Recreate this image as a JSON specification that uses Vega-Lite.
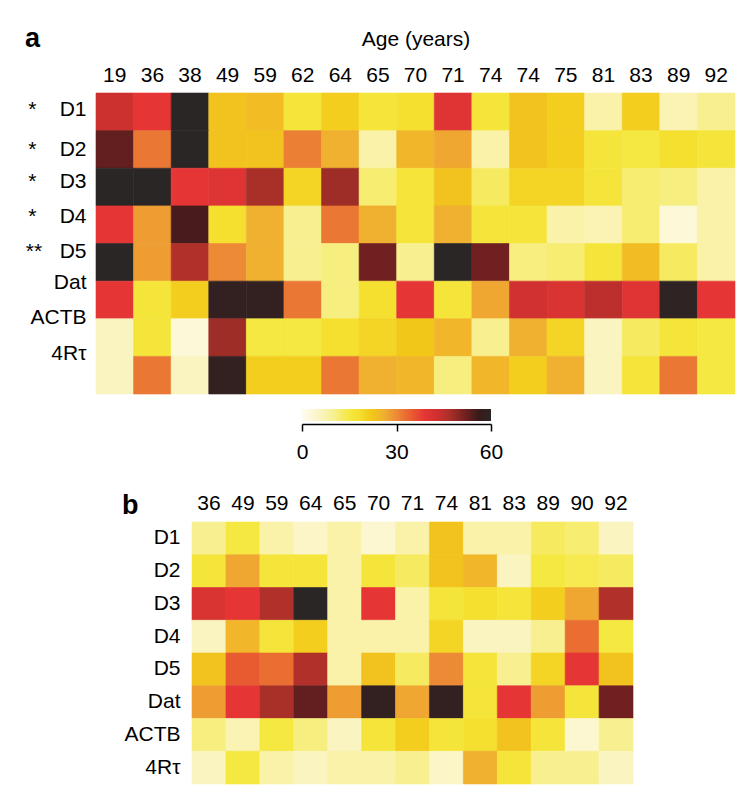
{
  "$schema": "https://vega.github.io/schema/vega-lite/v6.json",
  "background": "white",
  "padding": {"left": 0, "top": 25, "right": 0, "bottom": 0},
  "config": {
    "view": {"stroke": null},
    "font": "Liberation Sans",
    "axis": {"labelFont": "Liberation Sans", "labelFontSize": 21, "labelColor": "#000", "titleFont": "Liberation Sans", "titleFontSize": 21, "titleFontWeight": "normal", "titleColor": "#000", "domain": false, "ticks": false, "grid": false, "labelOverlap": false},
    "title": {"font": "Liberation Sans", "fontSize": 27, "fontWeight": "bold", "color": "#000", "anchor": "start", "frame": "group", "baseline": "alphabetic"}
  },
  "datasets": {
    "panelA": [
      {"gene": "D1", "age": "19", "v": 43}, {"gene": "D1", "age": "36", "v": 39}, {"gene": "D1", "age": "38", "v": 60}, {"gene": "D1", "age": "49", "v": 23}, {"gene": "D1", "age": "59", "v": 24}, {"gene": "D1", "age": "62", "v": 16}, {"gene": "D1", "age": "64", "v": 21}, {"gene": "D1", "age": "65", "v": 16}, {"gene": "D1", "age": "70", "v": 18}, {"gene": "D1", "age": "71", "v": 40}, {"gene": "D1", "age": "74", "v": 16}, {"gene": "D1", "age": "74\u200b", "v": 23}, {"gene": "D1", "age": "75", "v": 21}, {"gene": "D1", "age": "81", "v": 8}, {"gene": "D1", "age": "83", "v": 21}, {"gene": "D1", "age": "89", "v": 7}, {"gene": "D1", "age": "92", "v": 10},
      {"gene": "D2", "age": "19", "v": 53}, {"gene": "D2", "age": "36", "v": 32}, {"gene": "D2", "age": "38", "v": 60}, {"gene": "D2", "age": "49", "v": 23}, {"gene": "D2", "age": "59", "v": 23}, {"gene": "D2", "age": "62", "v": 31}, {"gene": "D2", "age": "64", "v": 26}, {"gene": "D2", "age": "65", "v": 8}, {"gene": "D2", "age": "70", "v": 25}, {"gene": "D2", "age": "71", "v": 27}, {"gene": "D2", "age": "74", "v": 8}, {"gene": "D2", "age": "74\u200b", "v": 23}, {"gene": "D2", "age": "75", "v": 21}, {"gene": "D2", "age": "81", "v": 16}, {"gene": "D2", "age": "83", "v": 15}, {"gene": "D2", "age": "89", "v": 18}, {"gene": "D2", "age": "92", "v": 16},
      {"gene": "D3", "age": "19", "v": 60}, {"gene": "D3", "age": "36", "v": 60}, {"gene": "D3", "age": "38", "v": 39}, {"gene": "D3", "age": "49", "v": 40}, {"gene": "D3", "age": "59", "v": 47}, {"gene": "D3", "age": "62", "v": 20}, {"gene": "D3", "age": "64", "v": 48}, {"gene": "D3", "age": "65", "v": 12}, {"gene": "D3", "age": "70", "v": 16}, {"gene": "D3", "age": "71", "v": 23}, {"gene": "D3", "age": "74", "v": 13}, {"gene": "D3", "age": "74\u200b", "v": 20}, {"gene": "D3", "age": "75", "v": 20}, {"gene": "D3", "age": "81", "v": 16}, {"gene": "D3", "age": "83", "v": 12}, {"gene": "D3", "age": "89", "v": 11}, {"gene": "D3", "age": "92", "v": 8},
      {"gene": "D4", "age": "19", "v": 39}, {"gene": "D4", "age": "36", "v": 28}, {"gene": "D4", "age": "38", "v": 55}, {"gene": "D4", "age": "49", "v": 18}, {"gene": "D4", "age": "59", "v": 26}, {"gene": "D4", "age": "62", "v": 10}, {"gene": "D4", "age": "64", "v": 32}, {"gene": "D4", "age": "65", "v": 26}, {"gene": "D4", "age": "70", "v": 16}, {"gene": "D4", "age": "71", "v": 26}, {"gene": "D4", "age": "74", "v": 16}, {"gene": "D4", "age": "74\u200b", "v": 16}, {"gene": "D4", "age": "75", "v": 8}, {"gene": "D4", "age": "81", "v": 7}, {"gene": "D4", "age": "83", "v": 12}, {"gene": "D4", "age": "89", "v": 3}, {"gene": "D4", "age": "92", "v": 8},
      {"gene": "D5", "age": "19", "v": 60}, {"gene": "D5", "age": "36", "v": 28}, {"gene": "D5", "age": "38", "v": 46}, {"gene": "D5", "age": "49", "v": 30}, {"gene": "D5", "age": "59", "v": 26}, {"gene": "D5", "age": "62", "v": 10}, {"gene": "D5", "age": "64", "v": 11}, {"gene": "D5", "age": "65", "v": 52}, {"gene": "D5", "age": "70", "v": 10}, {"gene": "D5", "age": "71", "v": 60}, {"gene": "D5", "age": "74", "v": 52}, {"gene": "D5", "age": "74\u200b", "v": 11}, {"gene": "D5", "age": "75", "v": 12}, {"gene": "D5", "age": "81", "v": 16}, {"gene": "D5", "age": "83", "v": 24}, {"gene": "D5", "age": "89", "v": 13}, {"gene": "D5", "age": "92", "v": 8},
      {"gene": "Dat", "age": "19", "v": 39}, {"gene": "Dat", "age": "36", "v": 16}, {"gene": "Dat", "age": "38", "v": 21}, {"gene": "Dat", "age": "49", "v": 58}, {"gene": "Dat", "age": "59", "v": 58}, {"gene": "Dat", "age": "62", "v": 32}, {"gene": "Dat", "age": "64", "v": 11}, {"gene": "Dat", "age": "65", "v": 18}, {"gene": "Dat", "age": "70", "v": 39}, {"gene": "Dat", "age": "71", "v": 16}, {"gene": "Dat", "age": "74", "v": 27}, {"gene": "Dat", "age": "74\u200b", "v": 42}, {"gene": "Dat", "age": "75", "v": 41}, {"gene": "Dat", "age": "81", "v": 45}, {"gene": "Dat", "age": "83", "v": 40}, {"gene": "Dat", "age": "89", "v": 59}, {"gene": "Dat", "age": "92", "v": 39},
      {"gene": "ACTB", "age": "19", "v": 6}, {"gene": "ACTB", "age": "36", "v": 16}, {"gene": "ACTB", "age": "38", "v": 3}, {"gene": "ACTB", "age": "49", "v": 48}, {"gene": "ACTB", "age": "59", "v": 15}, {"gene": "ACTB", "age": "62", "v": 15}, {"gene": "ACTB", "age": "64", "v": 18}, {"gene": "ACTB", "age": "65", "v": 20}, {"gene": "ACTB", "age": "70", "v": 22}, {"gene": "ACTB", "age": "71", "v": 25}, {"gene": "ACTB", "age": "74", "v": 10}, {"gene": "ACTB", "age": "74\u200b", "v": 26}, {"gene": "ACTB", "age": "75", "v": 20}, {"gene": "ACTB", "age": "81", "v": 6}, {"gene": "ACTB", "age": "83", "v": 13}, {"gene": "ACTB", "age": "89", "v": 16}, {"gene": "ACTB", "age": "92", "v": 15},
      {"gene": "4Rτ", "age": "19", "v": 6}, {"gene": "4Rτ", "age": "36", "v": 32}, {"gene": "4Rτ", "age": "38", "v": 6}, {"gene": "4Rτ", "age": "49", "v": 58}, {"gene": "4Rτ", "age": "59", "v": 21}, {"gene": "4Rτ", "age": "62", "v": 21}, {"gene": "4Rτ", "age": "64", "v": 32}, {"gene": "4Rτ", "age": "65", "v": 26}, {"gene": "4Rτ", "age": "70", "v": 25}, {"gene": "4Rτ", "age": "71", "v": 11}, {"gene": "4Rτ", "age": "74", "v": 25}, {"gene": "4Rτ", "age": "74\u200b", "v": 21}, {"gene": "4Rτ", "age": "75", "v": 26}, {"gene": "4Rτ", "age": "81", "v": 6}, {"gene": "4Rτ", "age": "83", "v": 16}, {"gene": "4Rτ", "age": "89", "v": 32}, {"gene": "4Rτ", "age": "92", "v": 15}
    ],
    "panelB": [
      {"gene": "D1", "age": "36", "v": 10}, {"gene": "D1", "age": "49", "v": 15}, {"gene": "D1", "age": "59", "v": 8}, {"gene": "D1", "age": "64", "v": 5}, {"gene": "D1", "age": "65", "v": 8}, {"gene": "D1", "age": "70", "v": 4}, {"gene": "D1", "age": "71", "v": 8}, {"gene": "D1", "age": "74", "v": 23}, {"gene": "D1", "age": "81", "v": 8}, {"gene": "D1", "age": "83", "v": 8}, {"gene": "D1", "age": "89", "v": 13}, {"gene": "D1", "age": "90", "v": 12}, {"gene": "D1", "age": "92", "v": 6},
      {"gene": "D2", "age": "36", "v": 16}, {"gene": "D2", "age": "49", "v": 27}, {"gene": "D2", "age": "59", "v": 16}, {"gene": "D2", "age": "64", "v": 16}, {"gene": "D2", "age": "65", "v": 8}, {"gene": "D2", "age": "70", "v": 16}, {"gene": "D2", "age": "71", "v": 13}, {"gene": "D2", "age": "74", "v": 23}, {"gene": "D2", "age": "81", "v": 25}, {"gene": "D2", "age": "83", "v": 6}, {"gene": "D2", "age": "89", "v": 15}, {"gene": "D2", "age": "90", "v": 14}, {"gene": "D2", "age": "92", "v": 13},
      {"gene": "D3", "age": "36", "v": 41}, {"gene": "D3", "age": "49", "v": 39}, {"gene": "D3", "age": "59", "v": 46}, {"gene": "D3", "age": "64", "v": 60}, {"gene": "D3", "age": "65", "v": 8}, {"gene": "D3", "age": "70", "v": 39}, {"gene": "D3", "age": "71", "v": 8}, {"gene": "D3", "age": "74", "v": 16}, {"gene": "D3", "age": "81", "v": 18}, {"gene": "D3", "age": "83", "v": 16}, {"gene": "D3", "age": "89", "v": 21}, {"gene": "D3", "age": "90", "v": 27}, {"gene": "D3", "age": "92", "v": 46},
      {"gene": "D4", "age": "36", "v": 6}, {"gene": "D4", "age": "49", "v": 25}, {"gene": "D4", "age": "59", "v": 16}, {"gene": "D4", "age": "64", "v": 21}, {"gene": "D4", "age": "65", "v": 8}, {"gene": "D4", "age": "70", "v": 8}, {"gene": "D4", "age": "71", "v": 8}, {"gene": "D4", "age": "74", "v": 20}, {"gene": "D4", "age": "81", "v": 6}, {"gene": "D4", "age": "83", "v": 6}, {"gene": "D4", "age": "89", "v": 10}, {"gene": "D4", "age": "90", "v": 33}, {"gene": "D4", "age": "92", "v": 15},
      {"gene": "D5", "age": "36", "v": 23}, {"gene": "D5", "age": "49", "v": 35}, {"gene": "D5", "age": "59", "v": 33}, {"gene": "D5", "age": "64", "v": 46}, {"gene": "D5", "age": "65", "v": 8}, {"gene": "D5", "age": "70", "v": 23}, {"gene": "D5", "age": "71", "v": 13}, {"gene": "D5", "age": "74", "v": 30}, {"gene": "D5", "age": "81", "v": 16}, {"gene": "D5", "age": "83", "v": 10}, {"gene": "D5", "age": "89", "v": 20}, {"gene": "D5", "age": "90", "v": 39}, {"gene": "D5", "age": "92", "v": 23},
      {"gene": "Dat", "age": "36", "v": 28}, {"gene": "Dat", "age": "49", "v": 39}, {"gene": "Dat", "age": "59", "v": 47}, {"gene": "Dat", "age": "64", "v": 53}, {"gene": "Dat", "age": "65", "v": 28}, {"gene": "Dat", "age": "70", "v": 58}, {"gene": "Dat", "age": "71", "v": 27}, {"gene": "Dat", "age": "74", "v": 58}, {"gene": "Dat", "age": "81", "v": 16}, {"gene": "Dat", "age": "83", "v": 39}, {"gene": "Dat", "age": "89", "v": 28}, {"gene": "Dat", "age": "90", "v": 16}, {"gene": "Dat", "age": "92", "v": 52},
      {"gene": "ACTB", "age": "36", "v": 11}, {"gene": "ACTB", "age": "49", "v": 7}, {"gene": "ACTB", "age": "59", "v": 15}, {"gene": "ACTB", "age": "64", "v": 11}, {"gene": "ACTB", "age": "65", "v": 6}, {"gene": "ACTB", "age": "70", "v": 16}, {"gene": "ACTB", "age": "71", "v": 21}, {"gene": "ACTB", "age": "74", "v": 16}, {"gene": "ACTB", "age": "81", "v": 18}, {"gene": "ACTB", "age": "83", "v": 23}, {"gene": "ACTB", "age": "89", "v": 16}, {"gene": "ACTB", "age": "90", "v": 4}, {"gene": "ACTB", "age": "92", "v": 10},
      {"gene": "4Rτ", "age": "36", "v": 6}, {"gene": "4Rτ", "age": "49", "v": 15}, {"gene": "4Rτ", "age": "59", "v": 8}, {"gene": "4Rτ", "age": "64", "v": 6}, {"gene": "4Rτ", "age": "65", "v": 8}, {"gene": "4Rτ", "age": "70", "v": 8}, {"gene": "4Rτ", "age": "71", "v": 10}, {"gene": "4Rτ", "age": "74", "v": 5}, {"gene": "4Rτ", "age": "81", "v": 26}, {"gene": "4Rτ", "age": "83", "v": 16}, {"gene": "4Rτ", "age": "89", "v": 10}, {"gene": "4Rτ", "age": "90", "v": 10}, {"gene": "4Rτ", "age": "92", "v": 6}
    ]
  },
  "spacing": 30,
  "vconcat": [
    {
      "spacing": 14,
      "vconcat": [
        {
          "title": {"text": "a", "dx": -71, "dy": 29},
          "width": 639,
          "height": 301,
          "data": {"name": "panelA"},
          "mark": {"type": "rect", "strokeWidth": 0.6},
          "encoding": {
            "x": {"field": "age", "type": "nominal", "sort": null, "axis": {"orient": "top", "title": "Age (years)", "labelAngle": 0, "labelPadding": 8, "titlePadding": 15}},
            "y": {"field": "gene", "type": "nominal", "sort": null, "axis": {"title": null, "labelPadding": 10, "minExtent": 96, "maxExtent": 96,
              "labelExpr": "datum.value == 'D5' ? '**\u00a0\u00a0\u00a0D5' : (indexof(['D1','D2','D3','D4'], datum.value) >= 0 ? '*\u00a0\u00a0\u00a0\u00a0' + datum.value : datum.value)",
              "labelOffset": {"condition": [{"test": "datum.value === 'D1'", "value": -2}, {"test": "datum.value === 'D2'", "value": 1}, {"test": "datum.value === 'D3'", "value": -5}, {"test": "datum.value === 'D4'", "value": -8}, {"test": "datum.value === 'D5'", "value": -10}, {"test": "datum.value === 'Dat'", "value": -17}, {"test": "datum.value === 'ACTB'", "value": -20}], "value": -21}}},
            "color": {"field": "v", "type": "quantitative", "legend": null,
              "scale": {"type": "linear", "interpolate": "rgb", "domain": [0, 6, 10, 15, 18, 22, 26, 30, 35, 39, 44, 47, 52, 56, 60],
                "range": ["#fffcf0", "#faf4c0", "#f8f090", "#f5e840", "#f5e030", "#f2c818", "#f0b030", "#ec8a35", "#e85a30", "#e53535", "#c62f2e", "#a83028", "#702020", "#3a1a1a", "#2b2626"]}},
            "stroke": {"field": "v", "type": "quantitative", "legend": null,
              "scale": {"type": "linear", "interpolate": "rgb", "domain": [0, 6, 10, 15, 18, 22, 26, 30, 35, 39, 44, 47, 52, 56, 60],
                "range": ["#fffcf0", "#faf4c0", "#f8f090", "#f5e840", "#f5e030", "#f2c818", "#f0b030", "#ec8a35", "#e85a30", "#e53535", "#c62f2e", "#a83028", "#702020", "#3a1a1a", "#2b2626"]}}
          }
        },
        {
          "width": 395,
          "height": 12,
          "data": {"values": [{"lo": 0, "hi": 60}]},
          "mark": {"type": "rect", "fill": {"gradient": "linear", "stops": [
            {"offset": 0, "color": "#fffcf0"}, {"offset": 0.1, "color": "#faf4c0"}, {"offset": 0.1667, "color": "#f8f090"}, {"offset": 0.25, "color": "#f5e840"}, {"offset": 0.3, "color": "#f5e030"}, {"offset": 0.3667, "color": "#f2c818"}, {"offset": 0.4333, "color": "#f0b030"}, {"offset": 0.5, "color": "#ec8a35"}, {"offset": 0.5833, "color": "#e85a30"}, {"offset": 0.65, "color": "#e53535"}, {"offset": 0.7333, "color": "#c62f2e"}, {"offset": 0.7833, "color": "#a83028"}, {"offset": 0.8667, "color": "#702020"}, {"offset": 0.9333, "color": "#3a1a1a"}, {"offset": 1, "color": "#2b2626"}]}},
          "encoding": {
            "x": {"field": "lo", "type": "quantitative", "scale": {"domain": [0, 60], "range": [206, 395], "nice": false, "zero": false}, "axis": {"orient": "bottom", "values": [0, 30, 60], "domain": true, "ticks": true, "tickSize": 7, "domainColor": "#000", "tickColor": "#000", "domainWidth": 1.5, "tickWidth": 1.5, "offset": 3, "labelPadding": 10, "labelFlush": false, "title": null}},
            "x2": {"field": "hi"}
          }
        }
      ]
    },
    {
      "title": {"text": "b", "dx": 26, "dy": 32},
      "width": 537,
      "height": 262,
      "data": {"name": "panelB"},
      "mark": {"type": "rect", "strokeWidth": 0.6},
      "encoding": {
        "x": {"field": "age", "type": "nominal", "sort": null, "scale": {"range": [96, 537]}, "axis": {"orient": "top", "title": null, "labelAngle": 0, "labelPadding": 9}},
        "y": {"field": "gene", "type": "nominal", "sort": null, "axis": {"title": null, "labelPadding": 12, "offset": -96}},
        "color": {"field": "v", "type": "quantitative", "legend": null},
        "stroke": {"field": "v", "type": "quantitative", "legend": null}
      }
    }
  ]
}
